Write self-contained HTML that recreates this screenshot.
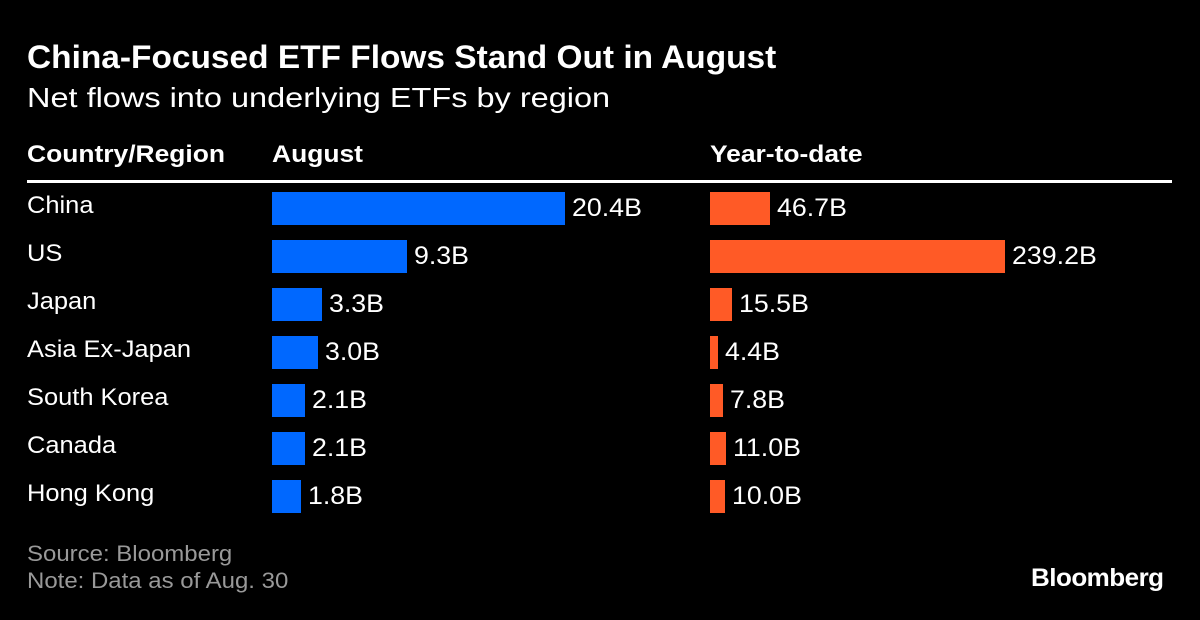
<!DOCTYPE html>
<html><head><meta charset="utf-8"><style>
body{margin:0;background:#000;width:1200px;height:620px;overflow:hidden;font-family:"Liberation Sans",sans-serif;color:#fff}
.a{position:absolute;white-space:nowrap;transform-origin:0 0}
</style></head><body>
<div class="a" style="left:27px;top:39px;font-size:32px;font-weight:bold;transform:scaleX(1.045)">China-Focused ETF Flows Stand Out in August</div>
<div class="a" style="left:27px;top:82px;font-size:28px;transform:scaleX(1.16)">Net flows into underlying ETFs by region</div>
<div class="a" style="left:27px;top:141px;font-size:24px;font-weight:bold;transform:scaleX(1.1)">Country/Region</div>
<div class="a" style="left:272px;top:141px;font-size:24px;font-weight:bold;transform:scaleX(1.1)">August</div>
<div class="a" style="left:710px;top:141px;font-size:24px;font-weight:bold;transform:scaleX(1.1)">Year-to-date</div>
<div class="a" style="left:27px;top:180px;width:1145px;height:3px;background:#fff"></div>
<div id="rows"></div>
<div class="a" style="left:27px;top:541px;font-size:22px;color:#999;transform:scaleX(1.09)">Source: Bloomberg</div>
<div class="a" style="left:27px;top:568px;font-size:22px;color:#999;transform:scaleX(1.09)">Note: Data as of Aug. 30</div>
<div class="a" style="left:1031px;top:564px;font-size:25px;font-weight:bold;letter-spacing:-0.5px;transform:scaleX(1.04)">Bloomberg</div>
<script>
const categories=["China","US","Japan","Asia Ex-Japan","South Korea","Canada","Hong Kong"];
const augustValues=[20.4,9.3,3.3,3.0,2.1,2.1,1.8];
const ytdValues=[46.7,239.2,15.5,4.4,7.8,11.0,10.0];
const root=document.getElementById('rows');
function augX(v){return v*14.2+3;}
function ytdX(v){return v*1.22+3;}
function mk(css,txt){const d=document.createElement('div');d.className='a';d.style.cssText=css;if(txt!=null)d.textContent=txt;root.appendChild(d);return d;}
categories.forEach((c,i)=>{
  const top=192+i*48;
  const l=mk(`left:27px;top:${top}px;font-size:24px;transform:scaleX(1.06)`,c);
  
  
  const wa=augX(augustValues[i]);
  const b=mk(`left:272px;top:${top}px;width:${wa}px;height:33px;background:#0068ff`);
  
  
  const va=mk(`left:${272+wa+7}px;top:${top+2}px;font-size:25px;transform:scaleX(1.07)`,augustValues[i].toFixed(1)+'B');
  
  
  const wy=ytdX(ytdValues[i]);
  const y=mk(`left:710px;top:${top}px;width:${wy}px;height:33px;background:#ff5a26`);
  
  
  const vy=mk(`left:${710+wy+7}px;top:${top+2}px;font-size:25px;transform:scaleX(1.07)`,ytdValues[i].toFixed(1)+'B');
  
  
});
</script>
</body></html>
